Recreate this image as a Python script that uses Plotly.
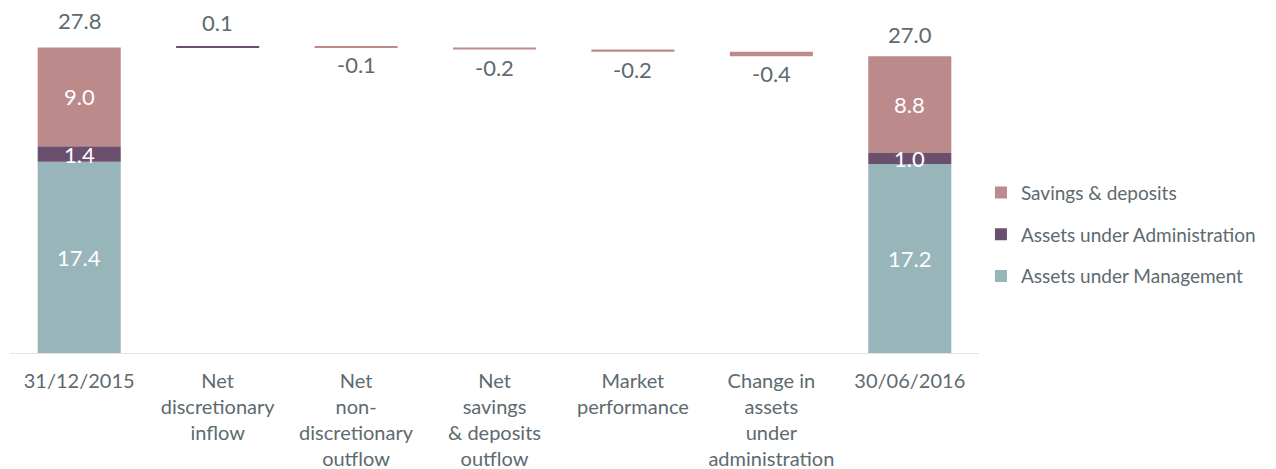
import plotly.graph_objects as go

categories = ["31/12/2015", "Net<br>discretionary<br>inflow", "Net<br>non-<br>discretionary<br>outflow",
              "Net<br>savings<br>& deposits<br>outflow", "Market<br>performance",
              "Change in<br>assets<br>under<br>administration", "30/06/2016"]
series_names = ["Assets under Management", "Assets under Administration", "Savings & deposits"]
start_values = [17.4, 1.4, 9.0]
end_values = [17.2, 1.0, 8.8]
change_values = [0.1, -0.1, -0.2, -0.2, -0.4]
change_series = [1, 2, 2, 2, 2]  # index into series_names for the colour
colors = ["#98b5b9", "#6b4f6f", "#bc8a8b"]

text_gray = "#5d6a70"
FONT = "Lato"

fig = go.Figure()
annotations = []

first, last = categories[0], categories[-1]
base_s, base_e = 0.0, 0.0
for i, name in enumerate(series_names):
    fig.add_trace(go.Bar(
        x=[first, last], y=[start_values[i], end_values[i]], base=[base_s, base_e],
        name=name, marker=dict(color=colors[i], line=dict(width=0)), width=0.6,
        legendgroup=name, legendrank=len(series_names) - i, hoverinfo="skip"))
    for cat, b, v in ((first, base_s, start_values[i]), (last, base_e, end_values[i])):
        annotations.append(dict(x=cat, y=b + v / 2, text=f"{v:.1f}", showarrow=False,
                                font=dict(color="white", size=22, family=FONT)))
    base_s += start_values[i]
    base_e += end_values[i]

total_start = round(sum(start_values), 1)
total_end = round(sum(end_values), 1)
for cat, t, shift in ((first, total_start, 11), (last, total_end, 6)):
    annotations.append(dict(x=cat, y=t, text=f"{t:.1f}", showarrow=False, yanchor="bottom",
                            yshift=shift, font=dict(color=text_gray, size=22, family=FONT)))

running = total_start
for j, v in enumerate(change_values):
    cat = categories[j + 1]
    fig.add_trace(go.Bar(
        x=[cat], y=[v], base=[running], width=0.6, showlegend=False,
        marker=dict(color=colors[change_series[j]], line=dict(width=0)), hoverinfo="skip"))
    if v >= 0:
        annotations.append(dict(x=cat, y=running + v, text=f"{v:.1f}", showarrow=False,
                                yanchor="bottom", yshift=8,
                                font=dict(color=text_gray, size=22, family=FONT)))
    else:
        annotations.append(dict(x=cat, y=running + v, text=f"{v:.1f}", showarrow=False,
                                yanchor="top", yshift=-2,
                                font=dict(color=text_gray, size=22, family=FONT)))
    running += v

fig.update_layout(
    width=1276, height=469,
    barmode="overlay",
    plot_bgcolor="white", paper_bgcolor="white",
    margin=dict(l=2, r=305, t=2, b=124),
    font=dict(family=FONT, color=text_gray, size=20),
    annotations=annotations,
    legend=dict(traceorder="grouped", x=1.002, xanchor="left", y=0.345, yanchor="middle",
                font=dict(size=19, color=text_gray, family=FONT), tracegroupgap=14,
                itemwidth=30),
    showlegend=True,
)
fig.update_xaxes(type="category", categoryorder="array", categoryarray=categories,
                 showline=True, linecolor="#e3e3e3", linewidth=1, ticks="",
                 ticklabelstandoff=10,
                 showgrid=False, tickfont=dict(size=20, color=text_gray, family=FONT))
fig.update_yaxes(range=[0, 31.2], visible=False, showgrid=False, zeroline=False)

fig.write_html("out.html")
